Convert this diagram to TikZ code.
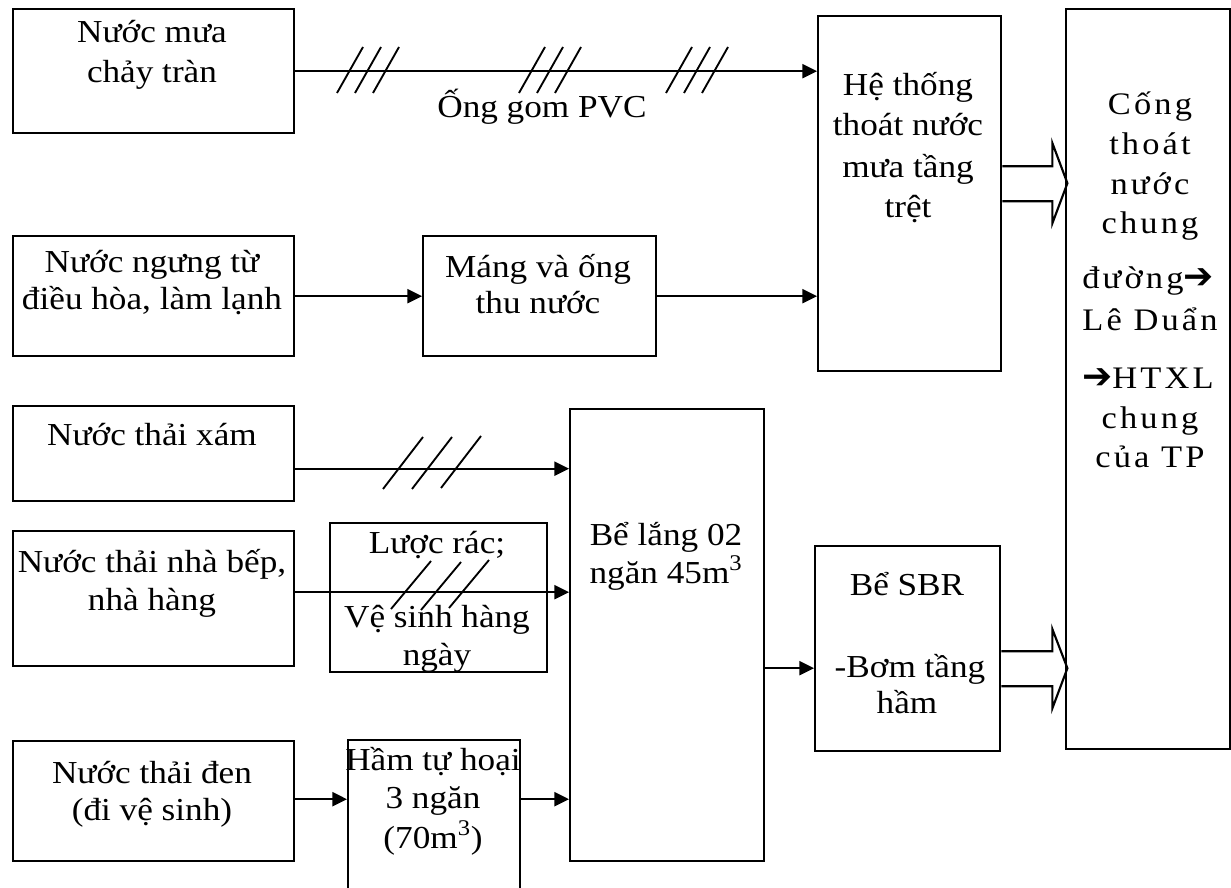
\documentclass[tikz,border=0pt]{standalone}
\usepackage{fontspec}
\setmainfont{Liberation Serif}[FakeStretch=1.1]
\newfontfamily\lsfont{Liberation Serif}[FakeStretch=1.1,LetterSpace=10]
\newfontfamily\arrfont{DejaVu Sans}
\newcommand\harr{{\arrfont\fontsize{27}{30}\selectfont ➔}}
\usetikzlibrary{arrows.meta,calc}
\begin{document}
\begin{tikzpicture}[x=0.75pt,y=-0.75pt,
 box/.style={draw, line width=1.8pt, inner sep=0pt, anchor=north west},
 bx/.style 2 args={box, minimum width=#1*0.75pt, minimum height=#2*0.75pt},
 txt/.style={inner sep=0pt, anchor=base, font=\fontsize{24}{30}\selectfont},
 rtxt/.style={inner sep=0pt, anchor=base, font=\lsfont\fontsize{23.5}{30}\selectfont},
 arr/.style={line width=1.6pt, -{Triangle[length=11pt,width=10.5pt]}},
 sl/.style={line width=1.4pt},
 hol/.style={line width=1.6pt, line join=miter}]
\useasboundingbox (0,0) rectangle (1231,888);
\clip (0,0) rectangle (1231,888);
% boxes
\node[bx={281}{124}] (mua) at (12,8) {};
\node[bx={183}{355}] (heth) at (817,15) {};
\node[bx={164}{740}] (cong) at (1065,8) {};
\node[bx={281}{120}] (ngung) at (12,235) {};
\node[bx={233}{120}] (mang) at (422,235) {};
\node[bx={281}{95}] (xam) at (12,405) {};
\node[bx={194}{452}] (belang) at (569,408) {};
\node[bx={281}{135}] (bep) at (12,530) {};
\node[bx={217}{149}] (luoc) at (329,522) {};
\node[bx={281}{120}] (den) at (12,740) {};
\node[bx={172}{160}] (ham) at (347,739) {};
\node[bx={185}{205}] (sbr) at (814,545) {};
% texts
\node[txt] (t1) at (152,43) {Nước mưa};
\node[txt] (t2) at (152,83) {chảy tràn};
\node[txt] (t3) at (542,118) {Ống gom PVC};
\node[txt] (t4) at (908,96) {Hệ thống};
\node[txt] (t5) at (908,136) {thoát nước};
\node[txt] (t6) at (908,178) {mưa tầng};
\node[txt] (t7) at (908,217) {trệt};
\node[rtxt] (r1) at (1150,115) {Cống};
\node[rtxt] (r2) at (1150,155) {thoát};
\node[rtxt] (r3) at (1150,195) {nước};
\node[rtxt] (r4) at (1150,233) {chung};
\node[rtxt] (r5) at (1148,288) {đường\harr};
\node[rtxt] (r6) at (1150,330) {Lê Duẩn};
\node[rtxt] (r7) at (1148,388) {\harr HTXL};
\node[rtxt] (r8) at (1150,428) {chung};
\node[rtxt] (r9) at (1150,467) {của TP};
\node[txt] (t8) at (152,272) {Nước ngưng từ};
\node[txt] (t9) at (152,309) {điều hòa, làm lạnh};
\node[txt] (t10) at (538,277) {Máng và ống};
\node[txt] (t11) at (538,313) {thu nước};
\node[txt] (t12) at (152,445) {Nước thải xám};
\node[txt] (t13) at (666,545) {Bể lắng 02};
\node[txt] (t14) at (666,583) {ngăn 45m\textsuperscript{3}};
\node[txt] (t15) at (152,572) {Nước thải nhà bếp,};
\node[txt] (t16) at (152,610) {nhà hàng};
\node[txt] (t17) at (437,553) {Lược rác;};
\node[txt] (t18) at (437,627) {Vệ sinh hàng};
\begin{scope}
\clip (luoc.south west) rectangle (luoc.north east);
\node[txt] (t19) at (437,665) {ngày};
\end{scope}
\node[txt] (t20) at (152,783) {Nước thải đen};
\node[txt] (t21) at (152,820) {(đi vệ sinh)};
\node[txt] (t22) at (433,770) {Hầm tự hoại};
\node[txt] (t23) at (433,808) {3 ngăn};
\node[txt] (t24) at (433,848) {(70m\textsuperscript{3})};
\node[txt] (t25) at (907,595) {Bể SBR};
\node[txt] (t26) at (910,677) {-Bơm tầng};
\node[txt] (t27) at (907,713) {hầm};
% connectors
\draw[arr] (mua.east) -- (mua.east -| heth.west);
\draw[arr] (ngung.east) -- (mang.west);
\draw[arr] (mang.east) -- (mang.east -| heth.west);
\path ([yshift=-11.25pt]xam.east) coordinate (xamo);
\draw[arr] (xamo) -- (xamo -| belang.west);
\path ([yshift=4.9pt]bep.east) coordinate (bepo);
\draw[arr] (bepo) -- (bepo -| belang.west);
\path ([yshift=1.5pt]den.east) coordinate (deno);
\draw[arr] (deno) -- (deno -| ham.west);
\draw[arr] (deno -| ham.east) -- (deno -| belang.west);
\path ([yshift=-14.6pt]sbr.west) coordinate (sbri);
\draw[arr] (sbri -| belang.east) -- (sbri);
% hollow arrows
\draw[hol] (heth.east) ++(0,-27.5) -- ++(50,0) -- ++(0,-23) -- ++(15,40) -- ++(-15,40) -- ++(0,-22) -- ++(-50,0);
\draw[hol] (sbr.east) ++(0,2.5) -- ++(51,0) -- ++(0,-22) -- ++(15,39) -- ++(-15,40) -- ++(0,-22) -- ++(-51,0);
% pipe marks
\foreach \c in {368,550,697} \foreach \d in {-18,0,18}
  \draw[sl] (\c+\d-13,93) -- (\c+\d+13,47);
\foreach \cx/\cy in {403/463,432/463,461/462}
  \draw[sl] (\cx-20,\cy+26) -- (\cx+20,\cy-26);
\foreach \cx/\cy in {411/585,441/586,469/584}
  \draw[sl] (\cx-20,\cy+24) -- (\cx+20,\cy-24);
\end{tikzpicture}
\end{document}
